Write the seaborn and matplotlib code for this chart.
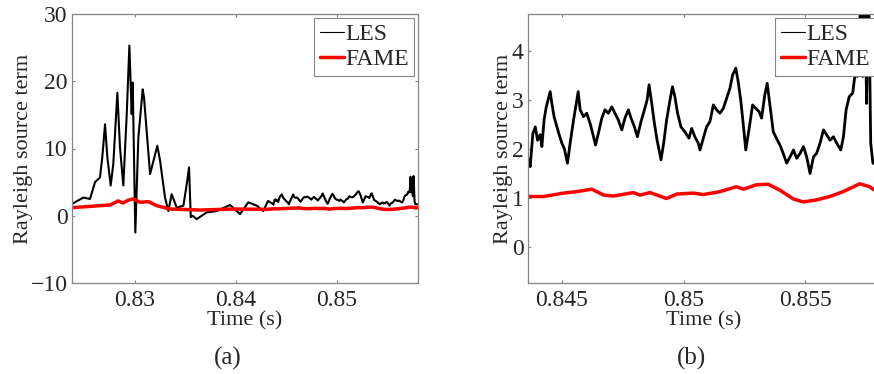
import matplotlib
matplotlib.use("Agg")
import matplotlib.pyplot as plt
import seaborn as sns
import pandas as pd

# ---------------- data ----------------
les_t = [0.82373, 0.82488, 0.82554, 0.82604, 0.82653, 0.82676, 0.82703, 0.82726,
         0.82759, 0.82785, 0.82825, 0.82851, 0.82884, 0.82918, 0.82944, 0.82967,
         0.82977, 0.83003, 0.83033, 0.83076, 0.83089, 0.83149, 0.83221, 0.83248,
         0.83297, 0.83330, 0.83363, 0.83413, 0.83479, 0.83512, 0.83535, 0.83552,
         0.83570, 0.83611, 0.83710, 0.83809, 0.83941, 0.84040, 0.84122, 0.84205,
         0.84270, 0.84317,
         0.84364, 0.84370, 0.84381, 0.84391, 0.84400, 0.84411, 0.84418, 0.84427,
         0.84436, 0.84445, 0.84452, 0.84459, 0.84468, 0.84480, 0.84489, 0.84500,
         0.84510, 0.84523, 0.84534, 0.84548, 0.84559, 0.84567, 0.84575, 0.84589,
         0.84602, 0.84616, 0.84630, 0.84638, 0.84650, 0.84664, 0.84677, 0.84691,
         0.84705, 0.84718, 0.84732, 0.84746, 0.84759, 0.84773, 0.84784, 0.84798,
         0.84810, 0.84825, 0.84839, 0.84850, 0.84858, 0.84869, 0.84880, 0.84891,
         0.84907, 0.84918, 0.84930, 0.84944, 0.84954, 0.84964, 0.84975, 0.84989,
         0.85005, 0.85022, 0.85033, 0.85046, 0.85060, 0.85067, 0.85081, 0.85094,
         0.85108, 0.85122, 0.85135, 0.85149, 0.85163, 0.85176, 0.85190, 0.85201,
         0.85214, 0.85224, 0.85235, 0.85245, 0.85255, 0.85269, 0.85283, 0.85296,
         0.85310, 0.85320, 0.85333, 0.85343, 0.85354, 0.85368, 0.85381, 0.85398,
         0.85411, 0.85423, 0.85437, 0.85451, 0.85464, 0.85478, 0.85492, 0.85505,
         0.85519, 0.85533, 0.85546, 0.85560, 0.85574, 0.85587, 0.85601, 0.85615,
         0.85628, 0.85645, 0.85656, 0.85667, 0.85680, 0.85694, 0.85704, 0.85713,
         0.85721, 0.85728, 0.85735, 0.85744, 0.85751, 0.85758, 0.85768, 0.85777,
         0.85802]
les_v = [1.74, 2.7, 2.5, 5.0, 5.7, 8.7, 13.6, 8.7,
         4.5, 7.7, 18.3, 10.2, 4.5, 15.1, 25.3, 15.1,
         19.8, -2.5, 11.6, 18.8, 17.6, 6.2, 10.4, 8.2,
         2.7, 0.7, 3.2, 1.2, 1.5, 4.7, 7.2, -0.2,
         0.0, -0.5, 0.5, 0.7, 1.6, 0.25, 2.0, 1.5,
         0.7, 2.2,
         1.78, 1.64, 2.32, 2.45, 2.18, 2.29, 2.05, 2.59,
         2.86, 3.03, 3.17, 2.93, 2.66, 2.45, 2.29, 2.12,
         2.01, 1.71, 2.12, 2.59, 2.93, 3.17, 2.80, 2.66,
         2.73, 2.52, 2.25, 2.08, 2.32, 2.63, 2.80, 2.73,
         2.86, 2.73, 2.59, 2.39, 2.63, 2.80, 2.63, 2.45,
         2.25, 2.56, 2.80, 3.00, 3.31, 2.93, 2.52, 2.18,
         1.78, 2.12, 2.59, 3.00, 3.27, 3.07, 2.73, 2.45,
         2.35, 2.22, 2.42, 2.25, 2.12, 1.98, 2.22, 2.45,
         2.56, 2.90, 2.80, 2.73, 2.83, 3.03, 3.24, 3.51,
         3.65, 3.37, 2.97, 2.49, 1.98, 2.42, 2.90, 2.83,
         2.76, 2.63, 3.10, 3.34, 2.90, 2.35, 2.22, 2.05,
         1.88, 1.71, 1.84, 1.98, 1.81, 1.91, 2.05, 1.84,
         1.50, 1.84, 1.91, 2.12, 2.39, 2.29, 2.18, 2.25,
         2.12, 1.98, 2.25, 2.80, 3.07, 3.14, 3.54, 3.48,
         3.88, 5.8, 3.48, 5.5, 2.93, 5.9, 2.12, 1.71,
         1.7]

fame_t = [0.82376, 0.82653, 0.82752, 0.82835, 0.82881, 0.82931, 0.82983, 0.83050,
          0.83132, 0.83215, 0.83347, 0.83644, 0.83970, 0.84304,
          0.84363, 0.84425, 0.84507, 0.84561, 0.84623, 0.84671, 0.84712, 0.84794,
          0.84821, 0.84862, 0.84930, 0.84971, 0.85040, 0.85081, 0.85149, 0.85217,
          0.85245, 0.85299, 0.85347, 0.85395, 0.85450, 0.85491, 0.85545, 0.85600,
          0.85655, 0.85723, 0.85764, 0.85779, 0.85802]
fame_v = [1.2, 1.5, 1.6, 2.2, 1.9, 2.3, 2.5, 2.0,
          2.1, 1.5, 1.0, 0.85, 1.0, 0.95,
          1.03, 1.03, 1.10, 1.13, 1.18, 1.06, 1.04, 1.11,
          1.06, 1.11, 0.99, 1.08, 1.10, 1.07, 1.13, 1.23,
          1.18, 1.27, 1.28, 1.16, 0.98, 0.92, 0.96, 1.03,
          1.13, 1.29, 1.23, 1.17, 1.2]

series_names = ["LES", "FAME"]
panel_labels = ["(a)", "(b)"]
a_xticks = [0.83, 0.84, 0.85]
a_xticklabels = ["0.83", "0.84", "0.85"]
a_yticks = [-10, 0, 10, 20, 30]
b_xticks = [0.845, 0.85, 0.855]
b_xticklabels = ["0.845", "0.85", "0.855"]
b_yticks = [0, 1, 2, 3, 4]

# ---------------- style ----------------
sns.set_style("ticks")
plt.rcParams["font.family"] = ["Liberation Serif", "DejaVu Serif"]
plt.rcParams["axes.unicode_minus"] = True

TICK_FS = 17
LABEL_FS = 16
LEG_FS = 17

les_df = pd.DataFrame({"t": les_t, "v": les_v})
fame_df = pd.DataFrame({"t": fame_t, "v": fame_v})

fig = plt.figure(figsize=(8.74, 3.74), dpi=100)
W, H = 874.0, 374.0
ax_a = fig.add_axes([72 / W, 1 - 283 / H, 346 / W, 269 / H])
ax_b = fig.add_axes([528 / W, 1 - 283 / H, 351 / W, 269 / H])

spine_col = "#858585"

def draw(ax, xlim, ylim, xticks, xticklabels, yticks, les_lw, ylabelpad):
    sns.lineplot(data=les_df, x="t", y="v", ax=ax, color="black", lw=les_lw,
                 estimator=None, sort=False, label=series_names[0])
    sns.lineplot(data=fame_df, x="t", y="v", ax=ax, color="#ff0000", lw=2.5,
                 estimator=None, sort=False, label=series_names[1])
    ax.set_xlim(*xlim)
    ax.set_ylim(*ylim)
    ax.set_xticks(xticks)
    ax.set_xticklabels(xticklabels)
    ax.set_yticks(yticks)
    ax.tick_params(direction="in", top=True, right=True, length=2.5,
                   width=0.8, color=spine_col, labelsize=TICK_FS)
    ax.tick_params(axis="x", pad=5)
    ax.tick_params(axis="y", pad=3)
    for s in ax.spines.values():
        s.set_visible(True)
        s.set_color(spine_col)
        s.set_linewidth(0.9)
    ax.set_xlabel("Time (s)", fontsize=LABEL_FS, labelpad=0)
    ax.set_ylabel("Rayleigh source term", fontsize=LABEL_FS, labelpad=ylabelpad)
    leg = ax.legend(loc="upper right", fancybox=False, edgecolor=spine_col,
                    framealpha=1, fontsize=LEG_FS, borderaxespad=0.15,
                    handlelength=1.0, handletextpad=0.05, borderpad=0.25,
                    labelspacing=0.15)
    leg.get_frame().set_linewidth(0.8)
    lines = leg.get_lines()
    lines[0].set_linewidth(0.8)
    lines[1].set_linewidth(2.5)

draw(ax_a, (0.82376, 0.85802), (-10, 30), a_xticks, a_xticklabels, a_yticks, 1.5, -1.5)
draw(ax_b, (0.84361, 0.85802), (-0.735, 4.755), b_xticks, b_xticklabels, b_yticks, 2.0, -0.5)

fig.text(228 / W, 1 - 358 / H, panel_labels[0], ha="center", va="center", fontsize=18)
fig.text(691 / W, 1 - 358 / H, panel_labels[1], ha="center", va="center", fontsize=18)

fig.savefig("out.png", dpi=100)
